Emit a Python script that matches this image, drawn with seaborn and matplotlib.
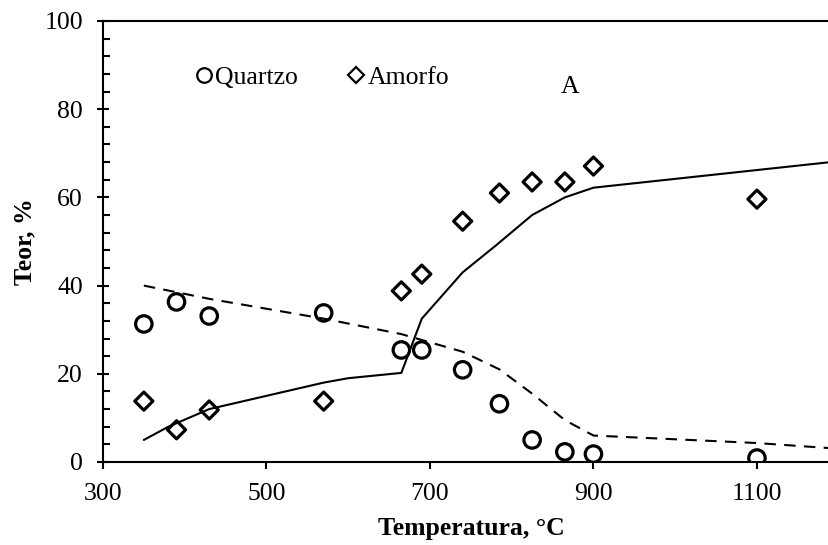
import matplotlib
matplotlib.use("Agg")
import matplotlib.pyplot as plt
import seaborn as sns
import pandas as pd
from matplotlib.lines import Line2D

# Data
temp_pts = [350, 390, 430, 570, 665, 690, 740, 785, 825, 865, 900, 1100]
quartzo = [31.3, 36.3, 33.1, 33.8, 25.4, 25.4, 20.9, 13.2, 5.0, 2.3, 1.8, 0.9]
amorfo = [13.8, 7.3, 11.8, 13.8, 38.8, 42.6, 54.6, 61.0, 63.5, 63.5, 67.1, 59.6]

temp_amorfo_model = [350, 380, 430, 500, 570, 600, 665, 690, 740, 780, 825, 865, 900, 1200]
amorfo_model = [5.0, 8.0, 12.0, 15.0, 18.0, 19.0, 20.2, 32.5, 43.0, 49.0, 56.0, 60.0, 62.2, 68.2]

temp_quartzo_model = [350, 430, 570, 665, 740, 785, 825, 865, 900, 1100, 1200]
quartzo_model = [40.0, 37.0, 32.5, 29.0, 25.0, 21.0, 15.5, 9.5, 6.0, 4.3, 3.0]

x_ticks = [300, 500, 700, 900, 1100]
y_ticks = [0, 20, 40, 60, 80, 100]

sns.set_theme(style="white")
plt.rcParams['font.family'] = ['Liberation Serif', 'DejaVu Serif']
plt.rcParams['text.color'] = 'black'
plt.rcParams['axes.labelcolor'] = 'black'
plt.rcParams['xtick.color'] = 'black'
plt.rcParams['ytick.color'] = 'black'

FS = 18.5

fig = plt.figure(figsize=(8.29, 5.45), dpi=100)
ax = fig.add_axes([0.1242, 0.1523, 0.8875, 0.8092])

df_pts = pd.DataFrame({"T": temp_pts, "Q": quartzo, "A": amorfo})
df_am = pd.DataFrame({"T": temp_amorfo_model, "v": amorfo_model})
df_qm = pd.DataFrame({"T": temp_quartzo_model, "v": quartzo_model})

sns.lineplot(data=df_am, x="T", y="v", ax=ax, color="black", linewidth=1.5, sort=False)
sns.lineplot(data=df_qm, x="T", y="v", ax=ax, color="black", linewidth=1.5, sort=False,
             linestyle=(0, (5.5, 4)))
sns.scatterplot(data=df_pts, x="T", y="Q", ax=ax, marker="o", s=140,
                facecolor="none", edgecolor="black", linewidth=2.3, zorder=5)
sns.scatterplot(data=df_pts, x="T", y="A", ax=ax, marker="D", s=85,
                facecolor="none", edgecolor="black", linewidth=2.3, zorder=5)

ax.set_xlim(300, 1200)
ax.set_ylim(0, 100)
ax.set_xticks(x_ticks)
ax.set_yticks(y_ticks)
ax.set_yticks(list(range(0, 101, 4)), minor=True)
ax.tick_params(axis='y', which='major', direction='inout', length=9, width=1.5,
               labelsize=FS, pad=10, left=True, colors='black')
ax.tick_params(axis='y', which='minor', direction='in', length=5, width=1.5, left=True,
               colors='black')
ax.tick_params(axis='x', which='major', direction='out', length=5, width=1.5,
               labelsize=FS, pad=10, bottom=True, colors='black')
for side in ['left', 'bottom', 'top']:
    ax.spines[side].set_visible(True)
    ax.spines[side].set_color('black')
    ax.spines[side].set_linewidth(1.5)
ax.spines['right'].set_visible(False)

ax.set_xlabel("Temperatura, °C", fontsize=FS, fontweight='bold', labelpad=9, color='black')
ax.set_ylabel("Teor, %", fontsize=FS, fontweight='bold', labelpad=6, color='black')

handles = [
    Line2D([], [], marker='o', linestyle='none', markerfacecolor='none',
           markeredgecolor='black', markeredgewidth=1.6, markersize=10.5),
    Line2D([], [], marker='D', linestyle='none', markerfacecolor='none',
           markeredgecolor='black', markeredgewidth=1.6, markersize=8.5),
]
leg = ax.legend(handles, ["Quartzo", "Amorfo"], ncol=2, frameon=False, fontsize=FS,
                handlelength=0.7, handletextpad=0.1, columnspacing=1.9,
                loc='center left', bbox_to_anchor=(0.093, 0.872))
for t in leg.get_texts():
    t.set_color('black')

ax.text(871, 85, "A", fontsize=FS, ha='center', va='center', color='black')

fig.savefig("out.png", dpi=100)
